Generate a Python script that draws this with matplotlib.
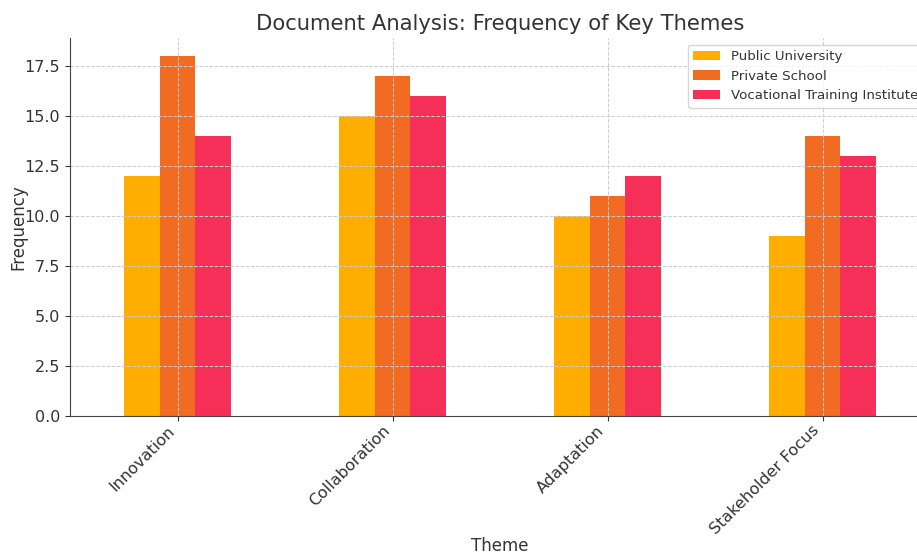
import numpy as np
import matplotlib
matplotlib.use('Agg')
import matplotlib.pyplot as plt

# dados
themes = ['Innovation', 'Collaboration', 'Adaptation', 'Stakeholder Focus']
public_univ = [12, 15, 10, 9]
private_school = [18, 17, 11, 14]
vocational = [14, 16, 12, 13]
series_names = ['Public University', 'Private School', 'Vocational Training Institute']
colors = ['#FFAE00', '#F26B22', '#F52F57']

text_col = '#333333'
plt.rcParams['text.color'] = text_col
plt.rcParams['axes.labelcolor'] = text_col
plt.rcParams['xtick.color'] = text_col
plt.rcParams['ytick.color'] = text_col

fig = plt.figure(figsize=(9.17, 5.54), dpi=100)
ax = fig.add_axes([70 / 917, 1 - 416 / 554, 860 / 917, (416 - 38) / 554])

x = np.arange(len(themes))
w = 0.5 / 3
for i, (vals, name) in enumerate(zip([public_univ, private_school, vocational], series_names)):
    ax.bar(x + (i - 1) * w, vals, w, color=colors[i], label=name)

ax.set_xlim(-0.5, len(themes) - 0.5)
ax.set_ylim(0, 18.9)
ax.set_xticks(x)
ax.set_xticklabels(themes, rotation=45, ha='right', fontsize=11.5)
ax.tick_params(axis='x', pad=1.5)
ax.tick_params(axis='y', labelsize=11.5)
ax.set_xlabel('Theme', fontsize=12, labelpad=0)
ax.set_ylabel('Frequency', fontsize=12, labelpad=-2)
ax.set_title('Document Analysis: Frequency of Key Themes', fontsize=15.2)
ax.grid(True, linestyle='--', color='#cccccc', linewidth=0.7)
ax.spines['top'].set_visible(False)
ax.spines['right'].set_visible(False)
ax.spines['left'].set_color('#444444')
ax.spines['bottom'].set_color('#444444')
ax.legend(loc='upper right', fontsize=9.6)

plt.savefig('out.png', dpi=100)
